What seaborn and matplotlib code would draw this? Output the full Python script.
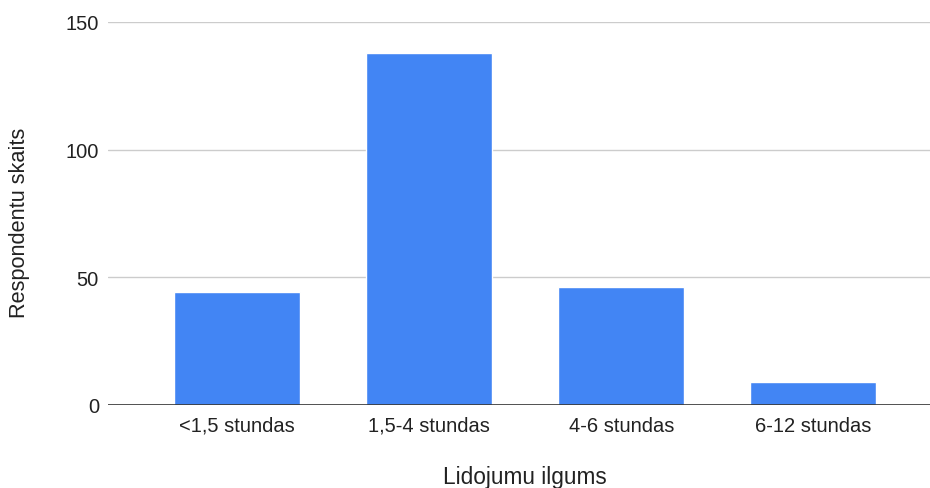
import matplotlib
matplotlib.use("Agg")
import matplotlib.pyplot as plt
import seaborn as sns
import pandas as pd

categories = ["<1,5 stundas", "1,5-4 stundas", "4-6 stundas", "6-12 stundas"]
counts = [44, 138, 46, 9]
y_ticks = [0, 50, 100, 150]

df = pd.DataFrame({"Lidojumu ilgums": categories, "Respondentu skaits": counts})

sns.set_theme(style="white")
plt.rcParams["font.family"] = ["Liberation Sans", "DejaVu Sans"]

fig = plt.figure(figsize=(9.3, 4.89), dpi=100)
ax = fig.add_axes([108 / 930, (489 - 405.7) / 489, 1 - 108 / 930, (405.7 - 23) / 489])

sns.barplot(data=df, x="Lidojumu ilgums", y="Respondentu skaits", color="#4285F4",
            saturation=1, width=0.655, ax=ax, zorder=3)

ax.set_xlim(-0.673, 3.608)
ax.set_ylim(0, 150)
ax.set_yticks(y_ticks)
ax.set_yticklabels([str(t) for t in y_ticks])
for t in y_ticks[1:]:
    ax.axhline(t, color="#cccccc", linewidth=1, zorder=1)
ax.axhline(0, color="#333333", linewidth=1.2, zorder=4)

for s in ax.spines.values():
    s.set_visible(False)
ax.tick_params(axis="both", length=0, labelsize=14.5, colors="#222222")
ax.tick_params(axis="y", pad=6.5)
ax.tick_params(axis="x", pad=8)

ax.set_xlabel("Lidojumu ilgums", fontsize=16.3, color="#222222")
ax.set_ylabel("Respondentu skaits", fontsize=15.7, color="#222222")
ax.xaxis.set_label_coords(0.507, -0.158)
ax.yaxis.set_label_coords(-0.095, 0.479)

fig.savefig("out.png", dpi=100)
